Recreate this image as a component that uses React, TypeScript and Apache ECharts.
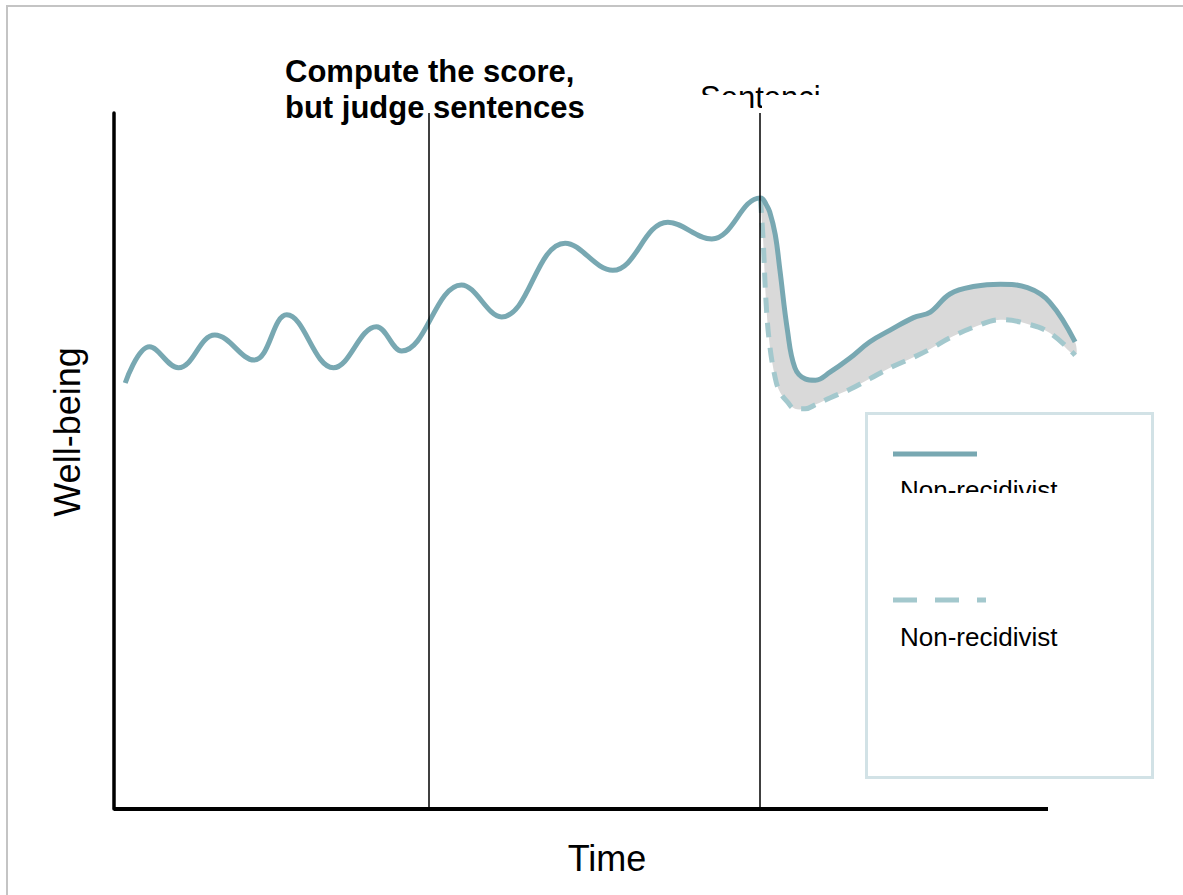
import React, { useEffect, useRef } from "react";
import * as echarts from "echarts";

// Pre-sentencing well-being (solid line), x in % of the time axis, y in % of the well-being axis
const X_PRE = [1.2, 3.8, 6.9, 10.8, 15.0, 18.5, 23.5, 28.1, 30.8, 37.2, 41.5, 48.3, 53.4, 59.3, 64.0];
const SOLID_PRE = [61.2, 66.4, 63.4, 68.1, 64.5, 71.0, 63.4, 69.3, 65.8, 75.3, 70.7, 81.3, 77.4, 84.3, 81.9];

// Post-sentencing: shared time grid for both curves
const X_POST = [69.2, 69.5, 69.8, 70.2, 70.8, 71.3, 72.1, 72.9, 74.0, 75.1, 76.7, 78.8, 80.9, 83.1, 85.6, 87.4, 89.5, 92.2, 94.9, 97.8, 100.2, 102.9];
const SOLID_POST = [87.8, 87.6, 86.9, 85.8, 82.5, 77.4, 68.8, 63.4, 61.8, 61.6, 62.8, 64.8, 67.1, 68.8, 70.6, 71.4, 74.0, 75.1, 75.4, 74.9, 72.8, 67.1];
const DASHED_POST = [87.8, 81.8, 73.1, 66.7, 61.9, 59.9, 58.5, 57.5, 57.5, 58.1, 59.1, 60.3, 61.8, 63.4, 64.9, 66.1, 67.7, 69.3, 70.3, 69.7, 68.4, 65.2];

// Vertical event markers on the time axis
const MARKERS = [33.7, 69.1];
// Visible extent of the time axis
const TIME_AXIS_END = 100;

const LEGEND_LABELS = ["Non-recidivist", "Non-recidivist"];

const SOLID_COLOR = "#78a8b2";
const DASHED_COLOR = "#a3c8cd";
const FONT = "Liberation Sans, Arial, sans-serif";
const SMOOTH = 0.4;

export default function App() {
  const ref = useRef<HTMLDivElement>(null);

  useEffect(() => {
    if (!ref.current) return;
    const chart = echarts.init(ref.current, null, { renderer: "svg" });

    const solidData = X_PRE.map((x, i) => [x, SOLID_PRE[i]]).concat(
      X_POST.map((x, i) => [x, SOLID_POST[i]])
    );
    const dashedData = X_POST.map((x, i) => [x, DASHED_POST[i]]);
    const bandData = X_POST.map((x, i) => [x, SOLID_POST[i], DASHED_POST[i]]);

    chart.setOption({
      animation: false,
      backgroundColor: "#ffffff",
      grid: { left: 114, top: 113, width: 934 * 1.04, height: 696, containLabel: false },
      xAxis: {
        type: "value",
        min: 0,
        max: 104,
        axisLine: { show: false },
        axisTick: { show: false },
        axisLabel: { show: false },
        splitLine: { show: false },
      },
      yAxis: {
        type: "value",
        min: 0,
        max: 100,
        axisLine: { show: true, lineStyle: { color: "#000", width: 3.5 } },
        axisTick: { show: false },
        axisLabel: { show: false },
        splitLine: { show: false },
      },
      series: [
        {
          name: "gap",
          type: "custom",
          coordinateSystem: "cartesian2d",
          clip: false,
          silent: true,
          data: bandData,
          encode: { x: 0, y: [1, 2] },
          renderItem: (params: any, api: any) => {
            if (params.dataIndex !== 0) return null;
            const upper = X_POST.map((x, i) => api.coord([x, SOLID_POST[i]]));
            const lower = X_POST.map((x, i) => api.coord([x, DASHED_POST[i]])).reverse();
            return {
              type: "polygon",
              shape: { points: upper.concat(lower), smooth: 0.35 },
              style: { fill: "#d9d9d9", stroke: "none" },
            };
          },
        },
        {
          name: "Recidivist",
          type: "line",
          data: dashedData,
          smooth: SMOOTH,
          symbol: "none",
          clip: false,
          lineStyle: { color: DASHED_COLOR, width: 5, type: [15, 10] },
        },
        {
          name: "Non-recidivist",
          type: "line",
          data: solidData,
          smooth: SMOOTH,
          symbol: "none",
          clip: false,
          lineStyle: { color: SOLID_COLOR, width: 5 },
          markLine: {
            silent: true,
            symbol: ["none", "none"],
            label: { show: false },
            lineStyle: { color: "#000", width: 1.5, type: "solid" },
            data: [
              ...MARKERS.map((m) => ({ xAxis: m })),
              [
                { coord: [0, 0], lineStyle: { color: "#000", width: 4, type: "solid" } },
                { coord: [TIME_AXIS_END, 0] },
              ],
            ],
          },
        },
      ],
      graphic: [
        {
          type: "rect",
          shape: { x: 7, y: 6, width: 1300, height: 1000 },
          style: { fill: "none", stroke: "#c4c4c4", lineWidth: 2 },
          silent: true,
        },
        {
          type: "text",
          x: 285,
          y: 71,
          style: { text: "Compute the score,", font: `bold 31px ${FONT}`, fill: "#000", align: "left", verticalAlign: "middle" },
        },
        {
          type: "text",
          x: 285,
          y: 107,
          style: { text: "but judge sentences", font: `bold 31px ${FONT}`, fill: "#000", align: "left", verticalAlign: "middle" },
        },
        {
          type: "text",
          x: 700,
          y: 97,
          style: { text: "Sentencing", font: `31px ${FONT}`, fill: "#000", align: "left", verticalAlign: "middle" },
        },
        {
          type: "rect",
          z: 100,
          shape: { x: 690, y: 95, width: 60, height: 17 },
          style: { fill: "#fff" },
          silent: true,
        },
        {
          type: "rect",
          z: 100,
          shape: { x: 762, y: 95, width: 120, height: 17 },
          style: { fill: "#fff" },
          silent: true,
        },
        {
          type: "rect",
          z: 100,
          shape: { x: 822, y: 70, width: 60, height: 55 },
          style: { fill: "#fff" },
          silent: true,
        },
        {
          type: "text",
          x: 607,
          y: 858,
          style: { text: "Time", font: `36px ${FONT}`, fill: "#000", align: "center", verticalAlign: "middle" },
        },
        {
          type: "text",
          x: 67,
          y: 432,
          rotation: Math.PI / 2,
          style: { text: "Well-being", font: `36px ${FONT}`, fill: "#000", align: "center", verticalAlign: "middle" },
        },
        // legend box
        {
          type: "rect",
          z: 50,
          shape: { x: 866.5, y: 413.5, width: 286, height: 364 },
          style: { fill: "#fff", stroke: "#d2e2e6", lineWidth: 3 },
        },
        {
          type: "line",
          z: 51,
          shape: { x1: 893, y1: 454, x2: 977, y2: 454 },
          style: { stroke: SOLID_COLOR, lineWidth: 5 },
        },
        {
          type: "text",
          z: 51,
          x: 900,
          y: 490,
          style: { text: LEGEND_LABELS[0], font: `26px ${FONT}`, fill: "#000", align: "left", verticalAlign: "middle" },
        },
        {
          type: "rect",
          z: 52,
          shape: { x: 890, y: 493, width: 220, height: 22 },
          style: { fill: "#fff" },
          silent: true,
        },
        {
          type: "line",
          z: 51,
          shape: { x1: 893, y1: 600, x2: 986, y2: 600 },
          style: { stroke: DASHED_COLOR, lineWidth: 5, lineDash: [24, 18] },
        },
        {
          type: "text",
          z: 51,
          x: 900,
          y: 637,
          style: { text: LEGEND_LABELS[1], font: `26px ${FONT}`, fill: "#000", align: "left", verticalAlign: "middle" },
        },
      ],
    });

    return () => chart.dispose();
  }, []);

  return (
    <div
      ref={ref}
      style={{ position: "absolute", left: 0, top: 0, width: 1183, height: 895, background: "#fff" }}
    />
  );
}
